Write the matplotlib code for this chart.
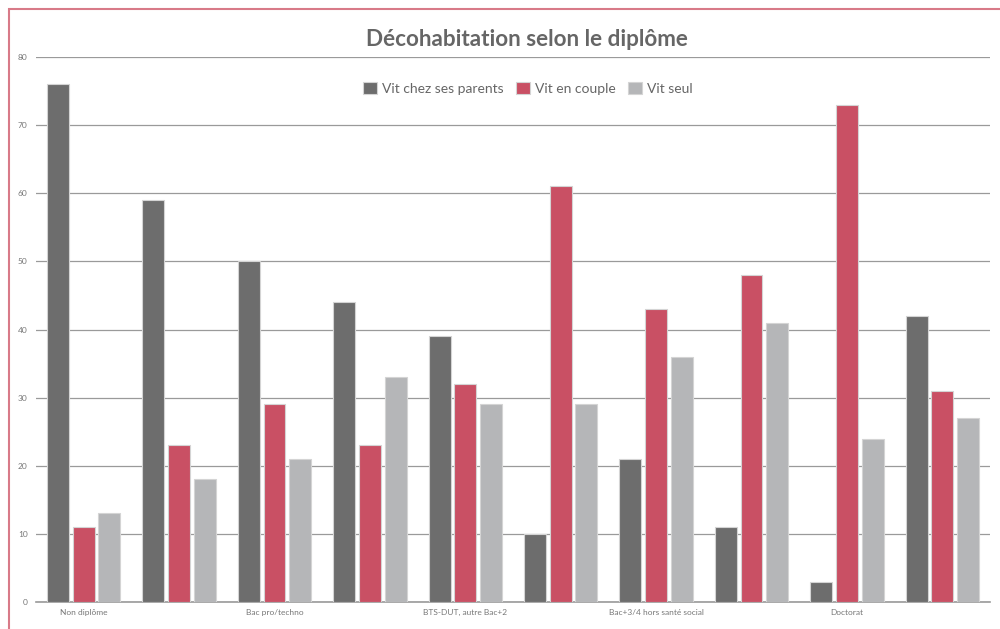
import matplotlib.pyplot as plt
import matplotlib.patches as patches
import numpy as np

plt.rcParams['font.family'] = ['Lato', 'DejaVu Sans']

tick_labels = ['Non diplôme', '', 'Bac pro/techno', '', 'BTS-DUT, autre Bac+2',
               '', 'Bac+3/4 hors santé social', '', 'Doctorat', '']
parents = [76, 59, 50, 44, 39, 10, 21, 11, 3, 42]
couple = [11, 23, 29, 23, 32, 61, 43, 48, 73, 31]
seul = [13, 18, 21, 33, 29, 29, 36, 41, 24, 27]

series = [
    ('Vit chez ses parents', parents, '#6d6d6d'),
    ('Vit en couple', couple, '#c95064'),
    ('Vit seul', seul, '#b5b6b8'),
]

fig = plt.figure(figsize=(10, 6.29), dpi=100)
ax = fig.add_axes([0.036, 0.0429, 0.954, 0.8665])

x = np.arange(len(tick_labels))
width = 0.23
step = 0.27
for i, (name, vals, col) in enumerate(series):
    ax.bar(x + (i - 1) * step, vals, width, color=col, label=name,
           edgecolor='#d4d4d4', linewidth=0.8, zorder=3)

ax.set_xlim(-0.5, len(tick_labels) - 0.5)
ax.set_ylim(0, 80)
ax.set_yticks(range(0, 81, 10))
ax.yaxis.grid(True, color='#9a9a9a', linewidth=0.9)
ax.set_axisbelow(True)
for s in ['top', 'right', 'left']:
    ax.spines[s].set_visible(False)
ax.spines['bottom'].set_color('#9a9a9a')
ax.spines['bottom'].set_linewidth(1.2)
ax.set_xticks(x)
ax.set_xticklabels(tick_labels, fontsize=6, color='#777777')
ax.tick_params(axis='x', length=0, pad=5)
ax.tick_params(axis='y', length=0, pad=6, labelsize=6, labelcolor='#777777')

fig.text(0.527, 0.937, 'Décohabitation selon le diplôme', ha='center', va='center',
         fontsize=16.2, fontweight='bold', color='#666666')
fig.legend(loc='center', bbox_to_anchor=(0.528, 0.86), ncol=3, frameon=False,
           fontsize=10, labelcolor='#666666', handlelength=1.0, handleheight=1.0,
           handletextpad=0.35, columnspacing=0.9)

border = patches.Rectangle((0.009, -0.05), 1.1, 1.05 - 0.014, transform=fig.transFigure,
                           fill=False, edgecolor='#d87a88', linewidth=1.5)
fig.patches.append(border)

fig.savefig('out.png', dpi=100)
